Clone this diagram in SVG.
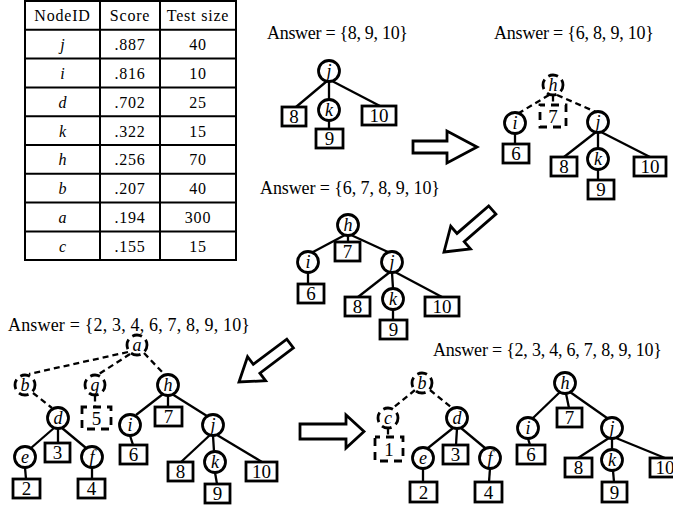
<svg xmlns="http://www.w3.org/2000/svg" width="673" height="510" viewBox="0 0 673 510">
  <style>
    .n { fill: #fff; stroke: #000; stroke-width: 2.8; }
    .nd { fill: #fff; stroke: #000; stroke-width: 2.8; stroke-dasharray: 10 5; stroke-dashoffset: 3; }
    .b { fill: #fff; stroke: #000; stroke-width: 2.8; }
    .bd { fill: #fff; stroke: #000; stroke-width: 2.8; stroke-dasharray: 8 6; stroke-dashoffset: 3; }
    .e { stroke: #000; stroke-width: 2.3; fill: none; }
    .ed { stroke: #000; stroke-width: 2.3; fill: none; stroke-dasharray: 6 4; }
    .lbl { font-family: "Liberation Serif", "Times New Roman", serif; font-style: italic; font-size: 18px; text-anchor: middle; fill: #000; }
    .num { font-family: "Liberation Serif", "Times New Roman", serif; font-size: 19px; text-anchor: middle; fill: #000; }
    .ans { font-family: "Liberation Serif", "Times New Roman", serif; font-size: 18px; fill: #000; }
    .tb { font-family: "Liberation Serif", "Times New Roman", serif; font-size: 16px; text-anchor: middle; fill: #000; letter-spacing: 0.8px; }
    .tbi { font-style: italic; letter-spacing: 0; }
    .grid { stroke: #000; stroke-width: 2; fill: none; }
    .arrow { fill: #fff; stroke: #000; stroke-width: 2.8; stroke-linejoin: miter; }
  </style>
  <rect width="673" height="510" fill="#fff"/>

  <!-- score table -->
  <g id="table">
    <rect class="grid" x="25" y="1" width="211" height="259"/>
    <line class="grid" x1="100" y1="1" x2="100" y2="260"/>
    <line class="grid" x1="160" y1="1" x2="160" y2="260"/>
    <line class="grid" x1="25" y1="29.8" x2="236" y2="29.8"/>
    <line class="grid" x1="25" y1="58.6" x2="236" y2="58.6"/>
    <line class="grid" x1="25" y1="87.4" x2="236" y2="87.4"/>
    <line class="grid" x1="25" y1="116.2" x2="236" y2="116.2"/>
    <line class="grid" x1="25" y1="145" x2="236" y2="145"/>
    <line class="grid" x1="25" y1="173.8" x2="236" y2="173.8"/>
    <line class="grid" x1="25" y1="202.6" x2="236" y2="202.6"/>
    <line class="grid" x1="25" y1="231.4" x2="236" y2="231.4"/>
    <text class="tb" x="62.5" y="21">NodeID</text>
    <text class="tb" x="130" y="21">Score</text>
    <text class="tb" x="198" y="21">Test size</text>
    <text class="tb tbi" x="62.5" y="50">j</text><text class="tb" x="130" y="50">.887</text><text class="tb" x="198" y="50">40</text>
    <text class="tb tbi" x="62.5" y="79">i</text><text class="tb" x="130" y="79">.816</text><text class="tb" x="198" y="79">10</text>
    <text class="tb tbi" x="62.5" y="108">d</text><text class="tb" x="130" y="108">.702</text><text class="tb" x="198" y="108">25</text>
    <text class="tb tbi" x="62.5" y="136.5">k</text><text class="tb" x="130" y="136.5">.322</text><text class="tb" x="198" y="136.5">15</text>
    <text class="tb tbi" x="62.5" y="165">h</text><text class="tb" x="130" y="165">.256</text><text class="tb" x="198" y="165">70</text>
    <text class="tb tbi" x="62.5" y="194">b</text><text class="tb" x="130" y="194">.207</text><text class="tb" x="198" y="194">40</text>
    <text class="tb tbi" x="62.5" y="223">a</text><text class="tb" x="130" y="223">.194</text><text class="tb" x="198" y="223">300</text>
    <text class="tb tbi" x="62.5" y="252">c</text><text class="tb" x="130" y="252">.155</text><text class="tb" x="198" y="252">15</text>
  </g>

  <!-- answer captions -->
  <g id="captions">
    <text class="ans" x="267" y="39" textLength="141" lengthAdjust="spacing">Answer = {8, 9, 10}</text>
    <text class="ans" x="494" y="39" textLength="160" lengthAdjust="spacing">Answer = {6, 8, 9, 10}</text>
    <text class="ans" x="260" y="194" textLength="180" lengthAdjust="spacing">Answer = {6, 7, 8, 9, 10}</text>
    <text class="ans" x="8" y="331" textLength="242" lengthAdjust="spacing">Answer = {2, 3, 4, 6, 7, 8, 9, 10}</text>
    <text class="ans" x="433" y="356" textLength="229" lengthAdjust="spacing">Answer = {2, 3, 4, 6, 7, 8, 9, 10}</text>
  </g>

  <!-- step arrows -->
  <g id="arrows">
    <polygon class="arrow" points="413,141 447,141 447,131 477,147 447,163 447,153 413,153"/>
    <polygon class="arrow" transform="translate(444,252) rotate(139)" points="-64,-5.5 -22,-5.5 -22,-15 0,0 -22,15 -22,5.5 -64,5.5"/>
    <polygon class="arrow" transform="translate(239,382) rotate(143)" points="-64,-5.5 -22,-5.5 -22,-15 0,0 -22,15 -22,5.5 -64,5.5"/>
    <polygon class="arrow" points="300,424 346,424 346,415 364,431.5 346,448 346,439 300,439"/>
  </g>

  <!-- connectors -->
  <g id="connectors">
    <!-- tree 1 -->
    <line class="e" x1="327" y1="81" x2="296" y2="107"/>
    <line class="e" x1="329" y1="81.5" x2="329" y2="99.5"/>
    <line class="e" x1="332" y1="81" x2="380" y2="106"/>
    <line class="e" x1="329" y1="121" x2="329" y2="129"/>
    <!-- tree 2 -->
    <line class="ed" x1="549" y1="95" x2="519" y2="113"/>
    <line class="ed" x1="553" y1="95.5" x2="553" y2="105"/>
    <line class="ed" x1="557" y1="95" x2="596" y2="112"/>
    <line class="e" x1="515" y1="133.5" x2="515" y2="144"/>
    <line class="e" x1="596" y1="132" x2="564" y2="157"/>
    <line class="e" x1="598" y1="132.5" x2="598" y2="148.5"/>
    <line class="e" x1="601" y1="132" x2="650" y2="157"/>
    <line class="e" x1="598" y1="169.5" x2="598" y2="180"/>
    <!-- tree 3 -->
    <line class="e" x1="345" y1="235" x2="313" y2="252"/>
    <line class="e" x1="348" y1="235.5" x2="348" y2="242"/>
    <line class="e" x1="351" y1="235" x2="388" y2="252"/>
    <line class="e" x1="308" y1="272.5" x2="308" y2="284"/>
    <line class="e" x1="390" y1="272" x2="358" y2="297"/>
    <line class="e" x1="392" y1="272.5" x2="393" y2="288.5"/>
    <line class="e" x1="395" y1="272" x2="442" y2="297"/>
    <line class="e" x1="393" y1="309.5" x2="393" y2="320"/>
    <!-- tree 4 -->
    <line class="ed" x1="128" y1="352" x2="29" y2="374"/>
    <line class="ed" x1="130" y1="354" x2="99" y2="374"/>
    <line class="ed" x1="144" y1="353" x2="164" y2="374"/>
    <line class="ed" x1="33" y1="393" x2="52" y2="408"/>
    <line class="ed" x1="95" y1="395.5" x2="95" y2="407"/>
    <line class="e" x1="163" y1="394" x2="136" y2="415"/>
    <line class="e" x1="168" y1="395.5" x2="168" y2="407"/>
    <line class="e" x1="172" y1="394" x2="207" y2="416"/>
    <line class="e" x1="54" y1="428" x2="31" y2="448"/>
    <line class="e" x1="58" y1="428.5" x2="58" y2="443"/>
    <line class="e" x1="62" y1="428" x2="86" y2="448"/>
    <line class="e" x1="25" y1="467.5" x2="26" y2="479"/>
    <line class="e" x1="92" y1="467.5" x2="92" y2="479"/>
    <line class="e" x1="130" y1="435.5" x2="133" y2="445"/>
    <line class="e" x1="210" y1="435" x2="181" y2="462"/>
    <line class="e" x1="213" y1="435.5" x2="214" y2="451.5"/>
    <line class="e" x1="217" y1="435" x2="262" y2="462"/>
    <line class="e" x1="215" y1="472.5" x2="217" y2="484"/>
    <!-- tree 5 -->
    <line class="ed" x1="415" y1="390" x2="393" y2="408"/>
    <line class="ed" x1="430" y1="390" x2="452" y2="408"/>
    <line class="ed" x1="388" y1="428.5" x2="388" y2="437"/>
    <line class="e" x1="453" y1="428" x2="428" y2="448"/>
    <line class="e" x1="457" y1="428.5" x2="456" y2="445"/>
    <line class="e" x1="461" y1="428" x2="485" y2="448"/>
    <line class="e" x1="423" y1="468.5" x2="423" y2="482"/>
    <line class="e" x1="490" y1="468.5" x2="489" y2="482"/>
    <line class="e" x1="560" y1="392" x2="533" y2="418"/>
    <line class="e" x1="566" y1="393.5" x2="569" y2="408"/>
    <line class="e" x1="570" y1="392" x2="607" y2="418"/>
    <line class="e" x1="528" y1="438.5" x2="530" y2="445"/>
    <line class="e" x1="609" y1="438" x2="578" y2="458"/>
    <line class="e" x1="612" y1="438.5" x2="612" y2="449.5"/>
    <line class="e" x1="616" y1="438" x2="665" y2="458"/>
    <line class="e" x1="613" y1="470.5" x2="614" y2="482"/>
  </g>

  <!-- tree 1 -->
  <g id="t1-j"><circle class="n" cx="329" cy="71" r="10.5"/><text class="lbl" x="329" y="77">j</text></g>
  <g id="t1-k"><circle class="n" cx="329" cy="110" r="10.5"/><text class="lbl" x="329" y="116">k</text></g>
  <g id="t1-8"><rect class="b" x="282" y="107" width="24" height="19"/><text class="num" x="294" y="123">8</text></g>
  <g id="t1-10"><rect class="b" x="362" y="106" width="34" height="19"/><text class="num" x="379" y="122">10</text></g>
  <g id="t1-9"><rect class="b" x="316" y="129" width="27" height="19"/><text class="num" x="329.5" y="145">9</text></g>

  <!-- tree 2 -->
  <g id="t2-h"><circle class="nd" cx="553" cy="85" r="10"/><text class="lbl" x="553" y="91">h</text></g>
  <g id="t2-7"><rect class="bd" x="540" y="105" width="26" height="22"/><text class="num" x="553" y="122.5">7</text></g>
  <g id="t2-i"><circle class="n" cx="515" cy="123" r="10.5"/><text class="lbl" x="515" y="129">i</text></g>
  <g id="t2-j"><circle class="n" cx="598" cy="122" r="10.5"/><text class="lbl" x="598" y="128">j</text></g>
  <g id="t2-6"><rect class="b" x="503" y="144" width="26" height="19"/><text class="num" x="516" y="160">6</text></g>
  <g id="t2-8"><rect class="b" x="551" y="157" width="26" height="19"/><text class="num" x="564" y="173">8</text></g>
  <g id="t2-k"><circle class="n" cx="598" cy="159" r="10.5"/><text class="lbl" x="598" y="165">k</text></g>
  <g id="t2-10"><rect class="b" x="634" y="157" width="32" height="19"/><text class="num" x="650" y="173">10</text></g>
  <g id="t2-9"><rect class="b" x="588" y="180" width="26" height="19"/><text class="num" x="601" y="196">9</text></g>

  <!-- tree 3 -->
  <g id="t3-h"><circle class="n" cx="348" cy="225" r="10.5"/><text class="lbl" x="348" y="231">h</text></g>
  <g id="t3-7"><rect class="b" x="335" y="242" width="25" height="19"/><text class="num" x="347.5" y="258">7</text></g>
  <g id="t3-i"><circle class="n" cx="308" cy="262" r="10.5"/><text class="lbl" x="308" y="268">i</text></g>
  <g id="t3-j"><circle class="n" cx="392" cy="262" r="10.5"/><text class="lbl" x="392" y="268">j</text></g>
  <g id="t3-6"><rect class="b" x="298" y="284" width="26" height="19"/><text class="num" x="311" y="300">6</text></g>
  <g id="t3-8"><rect class="b" x="345" y="297" width="25" height="19"/><text class="num" x="357.5" y="313">8</text></g>
  <g id="t3-k"><circle class="n" cx="393" cy="299" r="10.5"/><text class="lbl" x="393" y="305">k</text></g>
  <g id="t3-10"><rect class="b" x="425" y="297" width="34" height="19"/><text class="num" x="442" y="313">10</text></g>
  <g id="t3-9"><rect class="b" x="380" y="320" width="27" height="19"/><text class="num" x="393.5" y="336">9</text></g>

  <!-- tree 4 -->
  <g id="t4-a"><circle class="nd" cx="137" cy="345" r="10"/><text class="lbl" x="137" y="351">a</text></g>
  <g id="t4-b"><circle class="nd" cx="25" cy="385" r="10"/><text class="lbl" x="25" y="391">b</text></g>
  <g id="t4-g"><circle class="nd" cx="95" cy="385" r="10"/><text class="lbl" x="95" y="391">g</text></g>
  <g id="t4-h"><circle class="n" cx="168" cy="385" r="10.5"/><text class="lbl" x="168" y="391">h</text></g>
  <g id="t4-d"><circle class="n" cx="58" cy="418" r="10.5"/><text class="lbl" x="58" y="424">d</text></g>
  <g id="t4-5"><rect class="bd" x="82" y="407" width="29" height="22"/><text class="num" x="96.5" y="424.5">5</text></g>
  <g id="t4-i"><circle class="n" cx="130" cy="425" r="10.5"/><text class="lbl" x="130" y="431">i</text></g>
  <g id="t4-7"><rect class="b" x="155" y="407" width="27" height="19"/><text class="num" x="168.5" y="423">7</text></g>
  <g id="t4-j"><circle class="n" cx="213" cy="425" r="10.5"/><text class="lbl" x="213" y="431">j</text></g>
  <g id="t4-e"><circle class="n" cx="25" cy="457" r="10.5"/><text class="lbl" x="25" y="463">e</text></g>
  <g id="t4-3"><rect class="b" x="45" y="443" width="25" height="19"/><text class="num" x="57.5" y="459">3</text></g>
  <g id="t4-f"><circle class="n" cx="92" cy="457" r="10.5"/><text class="lbl" x="92" y="463">f</text></g>
  <g id="t4-6"><rect class="b" x="120" y="445" width="27" height="19"/><text class="num" x="133.5" y="461">6</text></g>
  <g id="t4-2"><rect class="b" x="13" y="479" width="27" height="19"/><text class="num" x="26.5" y="495">2</text></g>
  <g id="t4-4"><rect class="b" x="78" y="479" width="27" height="19"/><text class="num" x="91.5" y="495">4</text></g>
  <g id="t4-8"><rect class="b" x="168" y="462" width="25" height="19"/><text class="num" x="180.5" y="478">8</text></g>
  <g id="t4-k"><circle class="n" cx="215" cy="462" r="10.5"/><text class="lbl" x="215" y="468">k</text></g>
  <g id="t4-10"><rect class="b" x="246" y="462" width="31" height="19"/><text class="num" x="261.5" y="478">10</text></g>
  <g id="t4-9"><rect class="b" x="205" y="484" width="25" height="19"/><text class="num" x="217.5" y="500">9</text></g>

  <!-- tree 5 -->
  <g id="t5-b"><circle class="nd" cx="422" cy="383" r="10"/><text class="lbl" x="422" y="389">b</text></g>
  <g id="t5-c"><circle class="nd" cx="388" cy="418" r="10"/><text class="lbl" x="388" y="424">c</text></g>
  <g id="t5-d"><circle class="n" cx="457" cy="418" r="10.5"/><text class="lbl" x="457" y="424">d</text></g>
  <g id="t5-1"><rect class="bd" x="375" y="437" width="28" height="24"/><text class="num" x="389" y="455.5">1</text></g>
  <g id="t5-e"><circle class="n" cx="423" cy="458" r="10.5"/><text class="lbl" x="423" y="464">e</text></g>
  <g id="t5-3"><rect class="b" x="443" y="445" width="25" height="19"/><text class="num" x="455.5" y="461">3</text></g>
  <g id="t5-f"><circle class="n" cx="490" cy="458" r="10.5"/><text class="lbl" x="490" y="464">f</text></g>
  <g id="t5-2"><rect class="b" x="410" y="482" width="27" height="20"/><text class="num" x="423.5" y="498.5">2</text></g>
  <g id="t5-4"><rect class="b" x="475" y="482" width="27" height="20"/><text class="num" x="488.5" y="498.5">4</text></g>
  <g id="t5-h"><circle class="n" cx="565" cy="383" r="10.5"/><text class="lbl" x="565" y="389">h</text></g>
  <g id="t5-7"><rect class="b" x="557" y="408" width="25" height="19"/><text class="num" x="569.5" y="424">7</text></g>
  <g id="t5-i"><circle class="n" cx="528" cy="428" r="10.5"/><text class="lbl" x="528" y="434">i</text></g>
  <g id="t5-j"><circle class="n" cx="612" cy="428" r="10.5"/><text class="lbl" x="612" y="434">j</text></g>
  <g id="t5-6"><rect class="b" x="517" y="445" width="28" height="19"/><text class="num" x="531" y="461">6</text></g>
  <g id="t5-8"><rect class="b" x="565" y="458" width="27" height="19"/><text class="num" x="578.5" y="474">8</text></g>
  <g id="t5-k"><circle class="n" cx="612" cy="460" r="10.5"/><text class="lbl" x="612" y="466">k</text></g>
  <g id="t5-10"><rect class="b" x="650" y="458" width="34" height="19"/><text class="num" x="665" y="474">10</text></g>
  <g id="t5-9"><rect class="b" x="602" y="482" width="25" height="20"/><text class="num" x="614.5" y="498.5">9</text></g>
</svg>
